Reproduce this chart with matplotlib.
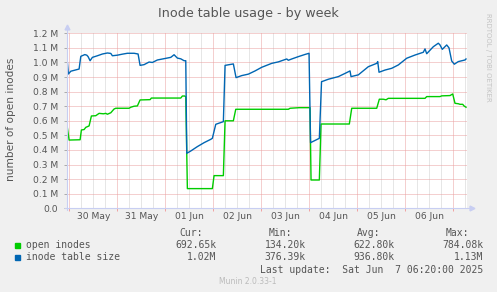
import numpy as np
import matplotlib
matplotlib.use("Agg")
from matplotlib import pyplot as plt
from matplotlib.patches import Rectangle

W, H = 497, 292

# hours since 30 May 00:00
size_hours = [-1.0, -0.5, 0.7, 4.85, 5.7, 7.7, 8.7, 9.35, 10.35, 11.5, 14.0, 16.5, 19.0,
              20.7, 21.5, 24.0, 26.5, 29.0, 32.35, 34.35, 35.35, 37.35, 39.85, 41.5, 44.0,
              47.35, 50.7, 52.35, 54.0, 55.7, 57.35, 58.2, 58.7, 60.7, 64.0, 67.35, 70.7,
              71.5, 73.2, 75.7, 77.0, 77.85, 82.0, 83.35, 86.2, 89.5, 92.85, 96.2, 101.2,
              104.5, 108.7, 109.5, 111.2, 114.5, 117.85, 119.85, 120.6, 125.0, 126.1, 129.5,
              134.5, 137.85, 140.35, 140.85, 144.5, 149.5, 153.7, 154.2, 154.85, 157.85,
              161.2, 164.5, 168.7, 172.85, 177.0, 177.85, 178.7, 182.0, 184.5, 185.35,
              186.5, 188.7, 189.85, 191.2, 192.5, 194.5, 197.85, 198.35]
size_values = [1.00, 0.921, 0.94, 0.955, 1.042, 1.054, 1.05, 1.04, 1.012, 1.035, 1.046,
               1.058, 1.065, 1.062, 1.046, 1.050, 1.057, 1.063, 1.063, 1.058, 0.98, 0.985,
               1.003, 1.0, 1.017, 1.026, 1.035, 1.053, 1.03, 1.025, 1.012, 1.012, 0.377,
               0.393, 0.423, 0.45, 0.473, 0.48, 0.576, 0.588, 0.594, 0.98, 0.99, 0.896,
               0.91, 0.92, 0.942, 0.967, 0.994, 1.004, 1.024, 1.015, 1.024, 1.04, 1.055,
               1.063, 0.45, 0.48, 0.868, 0.885, 0.903, 0.925, 0.942, 0.903, 0.915, 0.971,
               0.994, 1.006, 0.933, 0.948, 0.96, 0.983, 1.029, 1.051, 1.07, 1.093, 1.06,
               1.108, 1.132, 1.12, 1.09, 1.12, 1.10, 1.01, 0.988, 1.006, 1.017, 1.024]

open_hours = [-1.3, -0.15, 5.35, 6.0, 7.35, 8.2, 9.85, 11.0, 13.2, 14.85, 17.0, 18.2, 19.0,
              20.7, 22.35, 23.2, 29.85, 30.7, 32.35, 34.0, 35.35, 40.35, 41.0, 55.7, 56.5,
              57.7, 58.2, 59.0, 71.5, 72.35, 77.0, 77.85, 82.0, 83.2, 109.5, 110.35, 115.0,
              120.35, 120.85, 125.0, 125.85, 140.0, 141.2, 153.7, 155.0, 157.0, 158.35,
              159.5, 177.85, 178.7, 185.35, 186.2, 190.35, 191.7, 192.85, 194.5, 195.35,
              196.7, 197.35, 198.35]
open_values = [0.58, 0.468, 0.47, 0.537, 0.54, 0.555, 0.565, 0.633, 0.635, 0.651, 0.648,
               0.651, 0.645, 0.655, 0.681, 0.686, 0.686, 0.693, 0.70, 0.702, 0.743, 0.745,
               0.756, 0.756, 0.770, 0.770, 0.765, 0.135, 0.135, 0.224, 0.224, 0.60, 0.60,
               0.679, 0.679, 0.686, 0.69, 0.69, 0.194, 0.194, 0.578, 0.578, 0.686, 0.686,
               0.748, 0.748, 0.744, 0.754, 0.754, 0.766, 0.766, 0.771, 0.773, 0.784, 0.72,
               0.717, 0.713, 0.713, 0.702, 0.693]

day_labels = ["30 May", "31 May", "01 Jun", "02 Jun", "03 Jun", "04 Jun", "05 Jun", "06 Jun"]
y_ticks = [0.0, 0.1, 0.2, 0.3, 0.4, 0.5, 0.6, 0.7, 0.8, 0.9, 1.0, 1.1, 1.2]

legend_names = ["open inodes", "inode table size"]
legend_colors = ["#00cc00", "#0066b3"]
stats_cur = ["692.65k", "1.02M"]
stats_min = ["134.20k", "376.39k"]
stats_avg = ["622.80k", "936.80k"]
stats_max = ["784.08k", "1.13M"]

TXT = "#555555"
MONO = "DejaVu Sans Mono"


def px(x, y):
    return x / W, 1 - y / H


fig = plt.figure(figsize=(W / 100, H / 100), dpi=100, facecolor="#f0f0f0")
ax = fig.add_axes([67 / W, (H - 208.3) / H, 400 / W, 175 / H])
ax.set_facecolor("white")
ax.set_xlim(-1.2, 198.85)
ax.set_ylim(0, 1.2)
for s in ax.spines.values():
    s.set_visible(False)

# grid: 6h minor grey, daily red
for h in range(0, 199, 6):
    c = "#eba0a0" if h % 24 == 0 else "#cfcfcf"
    ax.axvline(h, color=c, lw=0.72, ls=(0, (1, 1)), zorder=1)
for v in y_ticks[1:]:
    ax.axhline(v, color="#eba0a0", lw=0.72, ls=(0, (1, 1)), zorder=1)

ax.plot(open_hours, open_values, color=legend_colors[0], lw=1.0, zorder=3)
ax.plot(size_hours, size_values, color=legend_colors[1], lw=1.0, zorder=3)

# axes with arrows
axis_c = "#c8cef2"
ax.plot([0, 0], [-0.01, 1.03], color=axis_c, lw=0.8, transform=ax.transAxes, clip_on=False, zorder=4)
ax.plot([-0.005, 1.01], [0, 0], color=axis_c, lw=0.8, transform=ax.transAxes, clip_on=False, zorder=4)
ax.plot([0], [1.035], marker="^", ms=3.5, color=axis_c, transform=ax.transAxes, clip_on=False, zorder=4)
ax.plot([1.012], [0], marker=">", ms=3.5, color=axis_c, transform=ax.transAxes, clip_on=False, zorder=4)

ax.set_xticks([12 + 24 * i for i in range(len(day_labels))])
ax.set_xticklabels(day_labels)
ax.set_xticks([24 * i for i in range(9)], minor=True)
ax.tick_params(axis="x", which="major", length=0, pad=2.8, labelsize=6.6, labelcolor=TXT)
ax.tick_params(axis="x", which="minor", length=2.2, width=0.7, color="#f0a0a0")
ax.set_yticks(y_ticks)
ax.set_yticklabels(["0.0"] + ["%.1f M" % v for v in y_ticks[1:]])
ax.tick_params(axis="y", length=2.2, width=0.7, color="#aaaaaa", pad=4, labelsize=6.6, labelcolor=TXT)

fig.text(*px(248, 13.5), "Inode table usage - by week", ha="center", va="center",
         fontsize=9.2, color=TXT)
fig.text(*px(11, 119), "number of open inodes", ha="center", va="center",
         rotation=90, fontsize=7.6, color=TXT)
fig.text(*px(488, 57), "RRDTOOL / TOBI OETIKER", ha="center", va="center",
         rotation=270, fontsize=5, color="#c4c4c4")

# legend block
for hdr, xr in zip(["Cur:", "Min:", "Avg:", "Max:"], [202.7, 292, 380, 469.3]):
    fig.text(*px(xr, 233.5), hdr, ha="right", va="center", family=MONO, fontsize=7, color=TXT)
for i, name in enumerate(legend_names):
    yc = 245.3 + 12.2 * i
    fig.add_artist(Rectangle(px(14.5, yc + 2.6), 5.2 / W, 5.2 / H,
                             transform=fig.transFigure, color=legend_colors[i]))
    fig.text(*px(26.5, yc), name, ha="left", va="center", family=MONO, fontsize=7, color=TXT)
    for vals, xr in zip([stats_cur, stats_min, stats_avg, stats_max], [216.7, 305.7, 394.3, 483.3]):
        fig.text(*px(xr, yc), vals[i], ha="right", va="center", family=MONO, fontsize=7, color=TXT)
fig.text(*px(483.3, 269.7), "Last update:  Sat Jun  7 06:20:00 2025", ha="right", va="center",
         family=MONO, fontsize=7, color=TXT)
fig.text(*px(248, 281.5), "Munin 2.0.33-1", ha="center", va="center", fontsize=5.5, color="#bbbbbb")

fig.savefig("out.png", dpi=100, facecolor=fig.get_facecolor())
